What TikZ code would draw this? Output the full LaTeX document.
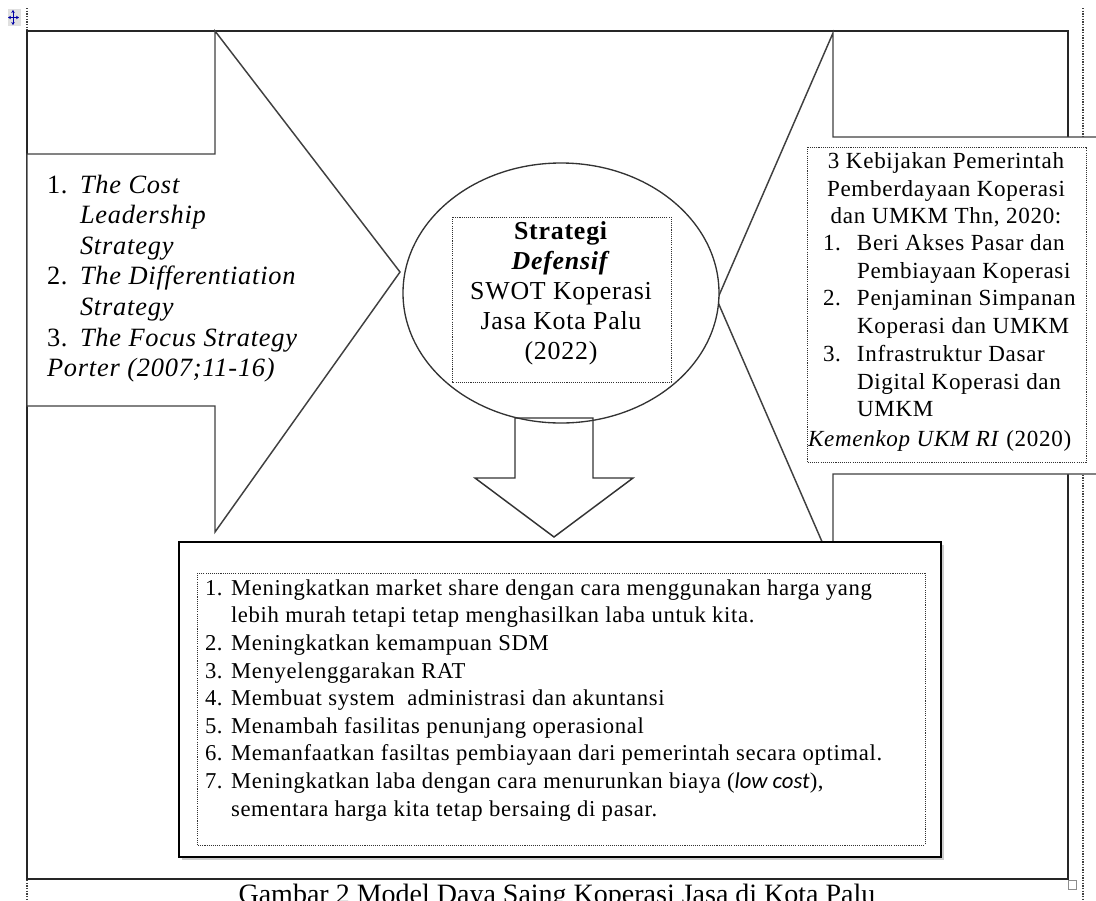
\documentclass[tikz,border=0pt]{standalone}
\usepackage{fontspec}
\setmainfont{Liberation Serif}
\newfontfamily\lsfont[LetterSpace=3]{Liberation Serif}
\newfontfamily\lowfont{Carlito}
\usetikzlibrary{shapes.geometric,shadows,arrows.meta}
\newcommand{\setfsz}[2]{\fontsize{#1}{#2}\selectfont}
\begin{document}
\begin{tikzpicture}[x=0.75pt,y=-0.75pt,
  frameline/.style={draw=black!85, line width=1.2pt},
  blockarrow/.style={draw=black!75, line width=1.1pt, fill=white, line join=miter},
  dotbox/.style={draw=black!80, line width=0.75pt, dash pattern=on 0.8pt off 0.8pt},
  guide/.style={draw=black!75, line width=0.9pt, dash pattern=on 1pt off 1pt},
  txt/.style={inner sep=0pt, outer sep=0pt, text=black}]
\useasboundingbox (0,0) rectangle (1096,900);
\clip (0,0) rectangle (1096,900);

% guide lines
\coordinate (gl1) at (27,8);   \coordinate (gl2) at (27,900);
\coordinate (gr1) at (1083,8); \coordinate (gr2) at (1083,900);
\draw[guide] (gl1) -- (gl2);
\draw[guide] (gr1) -- (gr2);

% move handle icon
\fill[black!12] (8,9) rectangle (21,26);
\draw[blue!65!black, line width=0.7pt, {Stealth[length=2.2pt,width=2.6pt]}-{Stealth[length=2.2pt,width=2.6pt]}] (13,10) -- (13,25);
\draw[blue!65!black, line width=0.7pt, {Stealth[length=2.2pt,width=2.6pt]}-{Stealth[length=2.2pt,width=2.6pt]}] (8,17.5) -- (19,17.5);

% frame
\draw[frameline] (27,31) rectangle (1068,879);

% left block arrow
\draw[blockarrow] (27,154) -- (215,154) -- (215,31) -- (400,272) -- (215,532) -- (215,406) -- (27,406) -- cycle;

% right block arrow
\draw[blockarrow] (1110,137) -- (833,137) -- (833,33) -- (717,300) -- (833,567) -- (833,474) -- (1110,474) -- cycle;

% right text box
\draw[dotbox, fill=white] (807,147) rectangle (1086,462);

% ellipse
\node[ellipse, draw=black!80, line width=1pt, fill=white, minimum width=237pt, minimum height=195pt, inner sep=0pt, outer sep=0pt] (ell) at (561,293) {};
\draw[dotbox] (452,217) rectangle (671,382);

% down arrow
\draw[draw=black!80, line width=1.1pt, line join=miter] (515,418) -- (593,418) -- (593,478) -- (633,478) -- (554,537) -- (475,478) -- (515,478) -- cycle;

% bottom box
\draw[draw=black, line width=1.2pt, fill=white, drop shadow={shadow xshift=2.5pt, shadow yshift=-2.5pt, opacity=0.4}] (179,542) rectangle (941,857);
\draw[dotbox] (197,573) rectangle (925,845);

% corner handle
\draw[black!45, line width=0.6pt, fill=white] (1068,880) rectangle (1076,889);

% texts
\node[txt, anchor=north west, align=left, font=\lsfont\setfsz{19.8pt}{22.9pt}] (lefttext) at (47,172)
 {\strut\makebox[24.75pt][l]{1.}\textit{The Cost}\\
  \hspace*{24.75pt}\textit{Leadership}\\
  \hspace*{24.75pt}\textit{Strategy}\\
  \makebox[24.75pt][l]{2.}\textit{The Differentiation}\\
  \hspace*{24.75pt}\textit{Strategy}\\
  \makebox[24.75pt][l]{3.}\textit{The Focus Strategy}\\
  \textit{Porter (2007;11-16)}};

\node[txt, anchor=north, align=center, font=\lsfont\setfsz{19.4pt}{22.5pt}] (elltext) at (561,218)
 {\strut\textbf{Strategi}\\
  \textbf{\textit{Defensif}}\\
  SWOT Koperasi\\
  Jasa Kota Palu\\
  (2022)};

\node[txt, anchor=north, align=center, font=\lsfont\setfsz{17.3pt}{20.8pt}] (rhead) at (946,149)
 {\strut 3 Kebijakan Pemerintah\\
  Pemberdayaan Koperasi\\
  dan UMKM Thn, 2020:};

\node[txt, anchor=north west, align=left, font=\lsfont\setfsz{17.3pt}{20.8pt}] (rlist) at (823,231)
 {\strut\makebox[25.5pt][l]{1.}Beri Akses Pasar dan\\
  \hspace*{25.5pt}Pembiayaan Koperasi\\
  \makebox[25.5pt][l]{2.}Penjaminan Simpanan\\
  \hspace*{25.5pt}Koperasi dan UMKM\\
  \makebox[25.5pt][l]{3.}Infrastruktur Dasar\\
  \hspace*{25.5pt}Digital Koperasi dan\\
  \hspace*{25.5pt}UMKM};

\node[txt, anchor=base west, font=\lsfont\setfsz{17.3pt}{20.8pt}] (rsrc) at (808,446)
 {\textit{Kemenkop UKM RI} (2020)};

\node[txt, anchor=north west, align=left, font=\lsfont\setfsz{17pt}{20.7pt}] (blist) at (205,576)
 {\strut\makebox[19.5pt][l]{1.}Meningkatkan market share dengan cara menggunakan harga yang\\
  \hspace*{19.5pt}lebih murah tetapi tetap menghasilkan laba untuk kita.\\
  \makebox[19.5pt][l]{2.}Meningkatkan kemampuan SDM\\
  \makebox[19.5pt][l]{3.}Menyelenggarakan RAT\\
  \makebox[19.5pt][l]{4.}Membuat system\ \ administrasi dan akuntansi\\
  \makebox[19.5pt][l]{5.}Menambah fasilitas penunjang operasional\\
  \makebox[19.5pt][l]{6.}Memanfaatkan fasiltas pembiayaan dari pemerintah secara optimal.\\
  \makebox[19.5pt][l]{7.}Meningkatkan laba dengan cara menurunkan biaya ({\lowfont\itshape low cost}),\\
  \hspace*{19.5pt}sementara harga kita tetap bersaing di pasar.};

\node[txt, anchor=base, font=\setfsz{21pt}{25pt}] (caption) at (557,903)
 {Gambar 2 Model Daya Saing Koperasi Jasa di Kota Palu};
\end{tikzpicture}
\end{document}
